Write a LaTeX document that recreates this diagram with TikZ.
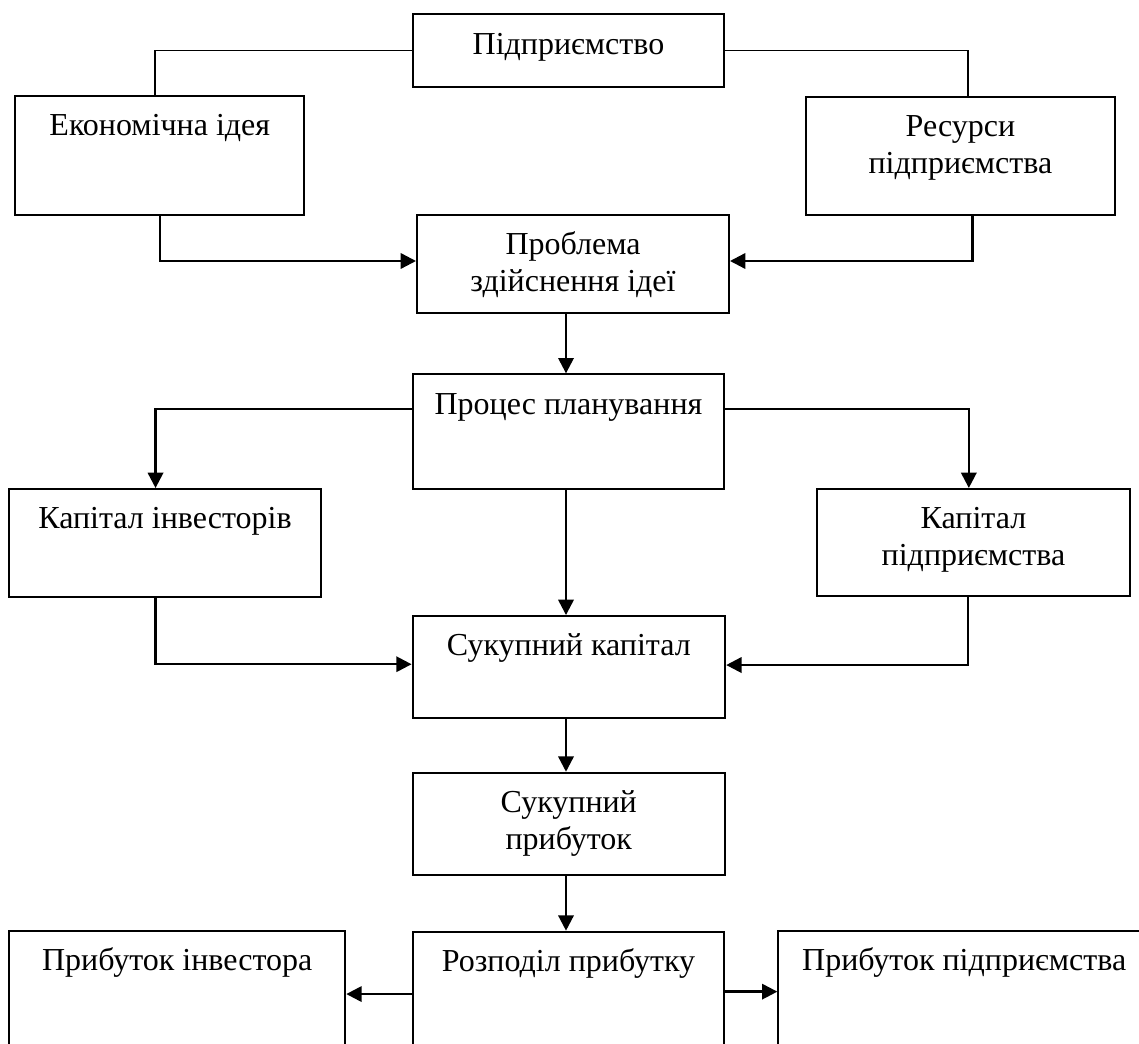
\documentclass[tikz,border=0pt]{standalone}
\usepackage{fontspec}
\setmainfont{Liberation Serif}
\usetikzlibrary{arrows.meta,calc}
\newcommand\mytwoln[2]{\begin{tabular}[t]{@{}c@{}}#1\\#2\end{tabular}}
\begin{document}
\begin{tikzpicture}[x=0.75pt,y=-0.75pt,
  bx/.style n args={2}{draw,line width=1.5pt,inner sep=0pt,minimum width=#1*0.75pt,minimum height=#2*0.75pt},
  txt/.style={font=\fontsize{24}{27.75}\selectfont,anchor=base,inner sep=0pt},
  plain/.style={line width=1.3pt},
  arr/.style={line width=1.8pt,-{Triangle[length=11.5pt,width=11.5pt]}}]
\useasboundingbox (0,0) rectangle (1139,1044);
\clip (0,0) rectangle (1139,1044);
% boxes
\node[bx={311.9}{72.4}]  (pid)  at (568.5,50.5) {};
\node[bx={289}{119.3}]   (econ) at (159.8,155.4) {};
\node[bx={309.8}{118.3}] (res)  at (960.4,155.9) {};
\node[bx={312}{98}]      (prob) at (573,264) {};
\node[bx={311.9}{114.7}] (proc) at (568.5,431.7) {};
\node[bx={311.9}{107.7}] (kinv) at (165,542.9) {};
\node[bx={312.6}{107}]   (kpid) at (973.5,542.5) {};
\node[bx={312.6}{101.7}] (skap) at (568.9,666.9) {};
\node[bx={312.4}{102.3}] (spr)  at (568.8,823.9) {};
\node[bx={311.9}{138.3}] (rozp) at (568.5,1000.85) {};
\node[bx={336.2}{139.3}] (pinv) at (177.2,1000.35) {};
\node[bx={371.7}{139.3}] (ppid) at (964.2,1000.35) {};
% texts
\node[txt] (tpid)  at ([yshift=-30.6pt]pid.north)  {Підприємство};
\node[txt] (tecon) at ([yshift=-30.6pt]econ.north) {Економічна ідея};
\node[txt] (tres)  at ([yshift=-30.6pt]res.north)  {\mytwoln{Ресурси}{підприємства}};
\node[txt] (tprob) at ([yshift=-30.6pt]prob.north) {\mytwoln{Проблема}{здійснення ідеї}};
\node[txt] (tproc) at ([yshift=-30.6pt]proc.north) {Процес планування};
\node[txt] (tkinv) at ([yshift=-30.6pt]kinv.north) {Капітал інвесторів};
\node[txt] (tkpid) at ([yshift=-30.6pt]kpid.north) {\mytwoln{Капітал}{підприємства}};
\node[txt] (tskap) at ([yshift=-30.6pt]skap.north) {Сукупний капітал};
\node[txt] (tspr)  at ([yshift=-30.6pt]spr.north)  {\mytwoln{Сукупний}{прибуток}};
\node[txt] (trozp) at ([yshift=-30.6pt]rozp.north) {Розподіл прибутку};
\node[txt] (tpinv) at ([yshift=-30.6pt]pinv.north) {Прибуток інвестора};
\node[txt] (tppid) at ([yshift=-30.6pt]ppid.north) {Прибуток підприємства};
% connectors
\coordinate (ax) at (566,0);
\draw[plain] (pid.west) -| ([xshift=-3.6pt]econ.north);
\draw[plain] (pid.east) -| ([xshift=5.7pt]res.north);
\draw[arr] (econ.south) |- ([yshift=2.25pt]prob.west);
\draw[arr] ([xshift=9pt]res.south) |- ([yshift=2.25pt]prob.east);
\draw[arr] (prob.south -| ax) -- (proc.north -| ax);
\draw[arr] ([yshift=17.2pt]proc.west) -| ([xshift=-7.1pt]kinv.north);
\draw[arr] ([yshift=17.2pt]proc.east) -| ([xshift=-3.5pt]kpid.north);
\draw[arr] (proc.south -| ax) -- (skap.north -| ax);
\draw[arr] ([xshift=-7.1pt]kinv.south) |- ([yshift=2pt]skap.west);
\draw[arr] ([xshift=-4.1pt]kpid.south) |- ([yshift=1.4pt]skap.east);
\draw[arr] (skap.south -| ax) -- (spr.north -| ax);
\draw[arr] (spr.south -| ax) -- (rozp.north -| ax);
\draw[arr] ([yshift=5.1pt]rozp.west) -- ([yshift=5.1pt]rozp.west -| pinv.east);
\draw[arr] ([yshift=6.9pt]rozp.east) -- ([yshift=6.9pt]rozp.east -| ppid.west);
\end{tikzpicture}
\end{document}
